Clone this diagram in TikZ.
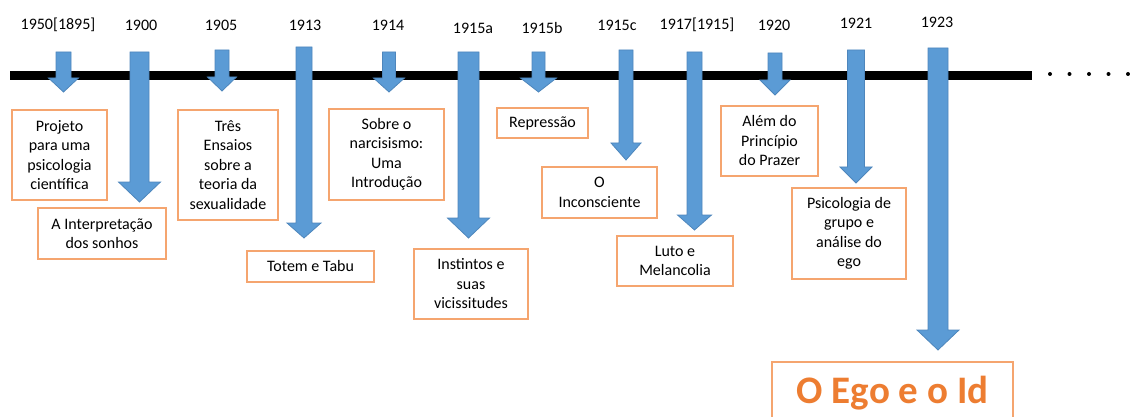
\documentclass[tikz,border=0pt]{standalone}
\usepackage{fontspec}
\setmainfont{Carlito}
\usetikzlibrary{positioning}

\definecolor{arrowblue}{HTML}{5B9BD5}
\definecolor{arrowedge}{HTML}{4E86BC}
\definecolor{boxorange}{HTML}{F5A56F}
\definecolor{egoorange}{HTML}{ED7D31}

\begin{document}
\begin{tikzpicture}[
    x=1pt, y=-1pt,
    font=\fontsize{16}{19.5}\selectfont,
    work/.style={draw=boxorange, line width=2pt, align=center, inner sep=0pt},
    year/.style={anchor=center, inner sep=0pt},
    blockarrow/.style={fill=arrowblue, draw=arrowedge, line width=0.8pt, line join=miter}
]
    \clip (0,0) rectangle (1130,417);

    % Timeline
    \coordinate (tstart) at (10,75.5);
    \coordinate (tend) at (1032,75.5);
    \draw[line width=9pt] (tstart) -- (tend);
    \foreach \d in {0,...,4}
        \fill (1050+19.5*\d,74) circle (2);

    % Years
    \foreach \x/\y/\name/\txt in {58/25/y1950/{1950[1895]}, 141/25/y1900/1900,
        221/25/y1905/1905, 305/25/y1913/1913, 388/25/y1914/1914,
        473/28/y1915a/1915a, 542/28/y1915b/1915b, 617/25/y1915c/1915c,
        697/25/y1917/{1917[1915]}, 774/25/y1920/1920, 856/23/y1921/1921,
        937/22/y1923/1923}
        \node[year] (\name) at (\x,\y) {\txt};

    % Arrows: centre / top / shaft / head base / head / tip
    \foreach \x/\t/\s/\b/\h/\p in {63.5/52/7.5/78/15/92, 139.5/52/9.5/182/21/202,
        222/50/7/77/14.5/91, 304/47/8/223/17/238, 389/52/6.5/78/15.5/92,
        468.5/52/10.5/218/21/238, 538.5/52/6.5/78/18/92, 626/50/7/143/15/160,
        694.5/52/7.5/215/17/230, 775/53/7/80/15/95, 856/50/8.5/167/16/183,
        938/48/10/330/21/350}
        \draw[blockarrow] (\x-\s,\t) -- (\x+\s,\t) -- (\x+\s,\b) -- (\x+\h,\b)
            -- (\x,\p) -- (\x-\h,\b) -- (\x-\s,\b) -- cycle;

    % Works
    \node[work, minimum width=95pt, minimum height=90pt] (projeto) at (59.5,155)
        {Projeto\\ para uma\\ psicologia\\ científica};
    \node[work, minimum width=128pt, minimum height=51pt] (sonhos) at (102,233.5)
        {A Interpretação\\ dos sonhos};
    \node[work, minimum width=100pt, minimum height=110pt] (ensaios) at (228,165)
        {Três\\ Ensaios\\ sobre a\\ teoria da\\ sexualidade};
    \node[work, minimum width=127pt, minimum height=31pt] (totem) at (310.5,266.5)
        {Totem e Tabu};
    \node[work, minimum width=115pt, minimum height=91pt] (narcisismo) at (386.5,154.5)
        {Sobre o\\ narcisismo:\\ Uma\\ Introdução};
    \node[work, minimum width=114pt, minimum height=70pt] (instintos) at (471,284)
        {Instintos e\\ suas\\ vicissitudes};
    \node[work, minimum width=91pt, minimum height=30pt] (repressao) at (542.5,123)
        {Repressão};
    \node[work, minimum width=115pt, minimum height=51pt] (inconsciente) at (599.5,192.5)
        {O\\ Inconsciente};
    \node[work, minimum width=116pt, minimum height=50pt] (luto) at (675,261)
        {Luto e\\ Melancolia};
    \node[work, minimum width=97pt, minimum height=70pt] (prazer) at (769.5,141)
        {Além do\\ Princípio\\ do Prazer};
    \node[work, minimum width=114pt, minimum height=91pt] (grupo) at (849,233.5)
        {Psicologia de\\ grupo e\\ análise do\\ ego};
    \node[work, anchor=north, minimum width=241pt, minimum height=63pt, text=egoorange,
        font=\fontsize{39}{40}\selectfont\bfseries] (ego) at (892.5,361)
        {O Ego e o Id};

\end{tikzpicture}
\end{document}
